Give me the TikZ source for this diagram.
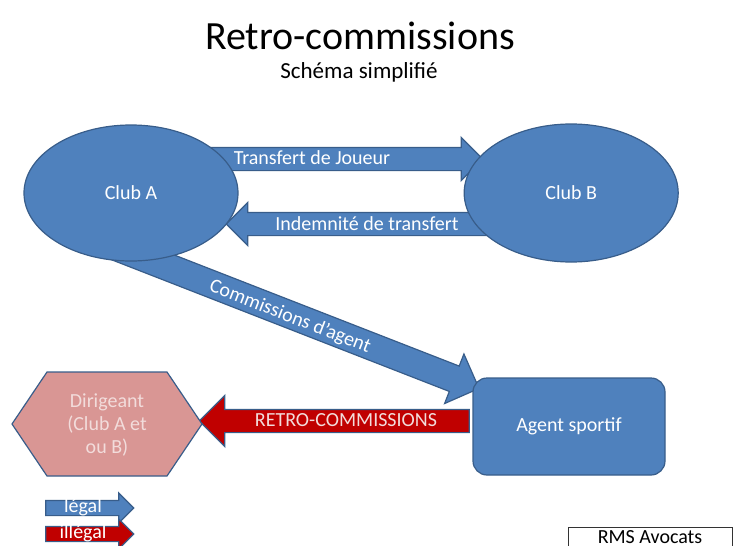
\documentclass[tikz,border=0pt]{standalone}
\usepackage{fontspec}
\setmainfont{Carlito}
\usetikzlibrary{positioning, shapes.geometric, shapes.arrows}

\definecolor{clubblue}{HTML}{4F81BD}
\definecolor{edgeblue}{HTML}{385D8A}
\definecolor{retrored}{HTML}{C00000}
\definecolor{hexpink}{HTML}{D99694}
\definecolor{lightpink}{HTML}{F2DCDB}

\begin{document}
\begin{tikzpicture}[x=1pt, y=-1pt,
	every node/.style={font=\fontsize{20}{23}\selectfont},
	club/.style={ellipse, draw=edgeblue, line width=1.2pt, fill=clubblue, text=white, minimum width=214pt, minimum height=136pt, inner sep=0pt},
	fleche/.style={single arrow, draw=edgeblue, line width=1.2pt, fill=clubblue, inner xsep=0pt},
	legende/.style={fleche, inner ysep=7pt, single arrow head extend=7.5pt, minimum height=88pt},
	etiquette/.style={text=white, inner sep=0pt}]
	\useasboundingbox (0,0) rectangle (737,546);

	\node[font=\fontsize{40}{44}\selectfont] (titre) at (360,36) {Retro-commissions};
	\node[font=\fontsize{23}{26}\selectfont] (soustitre) at (359,72) {Schéma simplifié};

	% fleches
	\node[fleche, inner ysep=11pt, single arrow head extend=10pt, minimum height=277pt] (transfert) at (338.5,159) {};
	\node[fleche, rotate=180, inner ysep=11pt, single arrow head extend=10pt, minimum height=268pt] (indemnite) at (366,224) {};
	\node[fleche, rotate=-21.3, inner ysep=13pt, single arrow head extend=13pt, minimum height=389pt] (commission) at (291.5,315.3) {};
	\node[fleche, fill=retrored, rotate=180, inner ysep=11pt, single arrow head extend=14pt, minimum height=270pt] (retro) at (340,421) {};

	\node[club] (clubA) at (131,193) {Club A};
	\node[club, right=225pt of clubA, minimum height=138pt] (clubB) {Club B};
	\node[rectangle, rounded corners=14pt, draw=edgeblue, line width=1.2pt, fill=clubblue, text=white, minimum width=192pt, minimum height=97pt] (agent) at (569,426.5) {Agent sportif};

	\draw[draw=edgeblue, line width=1.2pt, fill=hexpink] (12,424) -- (47,372) -- (167,372) -- (202,424) -- (167,476) -- (47,476) -- cycle;
	\node[text=lightpink, align=center] (dirigeant) at (107,425) {Dirigeant\\(Club A et\\ou B)};

	\node[etiquette] at (312,158) {Transfert de Joueur};
	\node[etiquette] at (367,224) {Indemnité de transfert};
	\node[etiquette, rotate=-21.3] at (290,317) {Commissions d’agent};
	\node[etiquette, text=lightpink] at (346,420) {RETRO-COMMISSIONS};

	% legende
	\node[legende] (legal) at (86,508) {};
	\node[legende, fill=retrored] (illegal) at (86,534) {};
	\node[etiquette] at (83,507) {légal};
	\node[etiquette] at (83,533) {illégal};

	\node[draw=black!80, line width=1pt, fill=white, anchor=north, minimum width=164pt, inner xsep=0pt, inner ysep=3pt, text height=13pt, text depth=4pt] (rms) at (650,527) {RMS Avocats};
\end{tikzpicture}
\end{document}
